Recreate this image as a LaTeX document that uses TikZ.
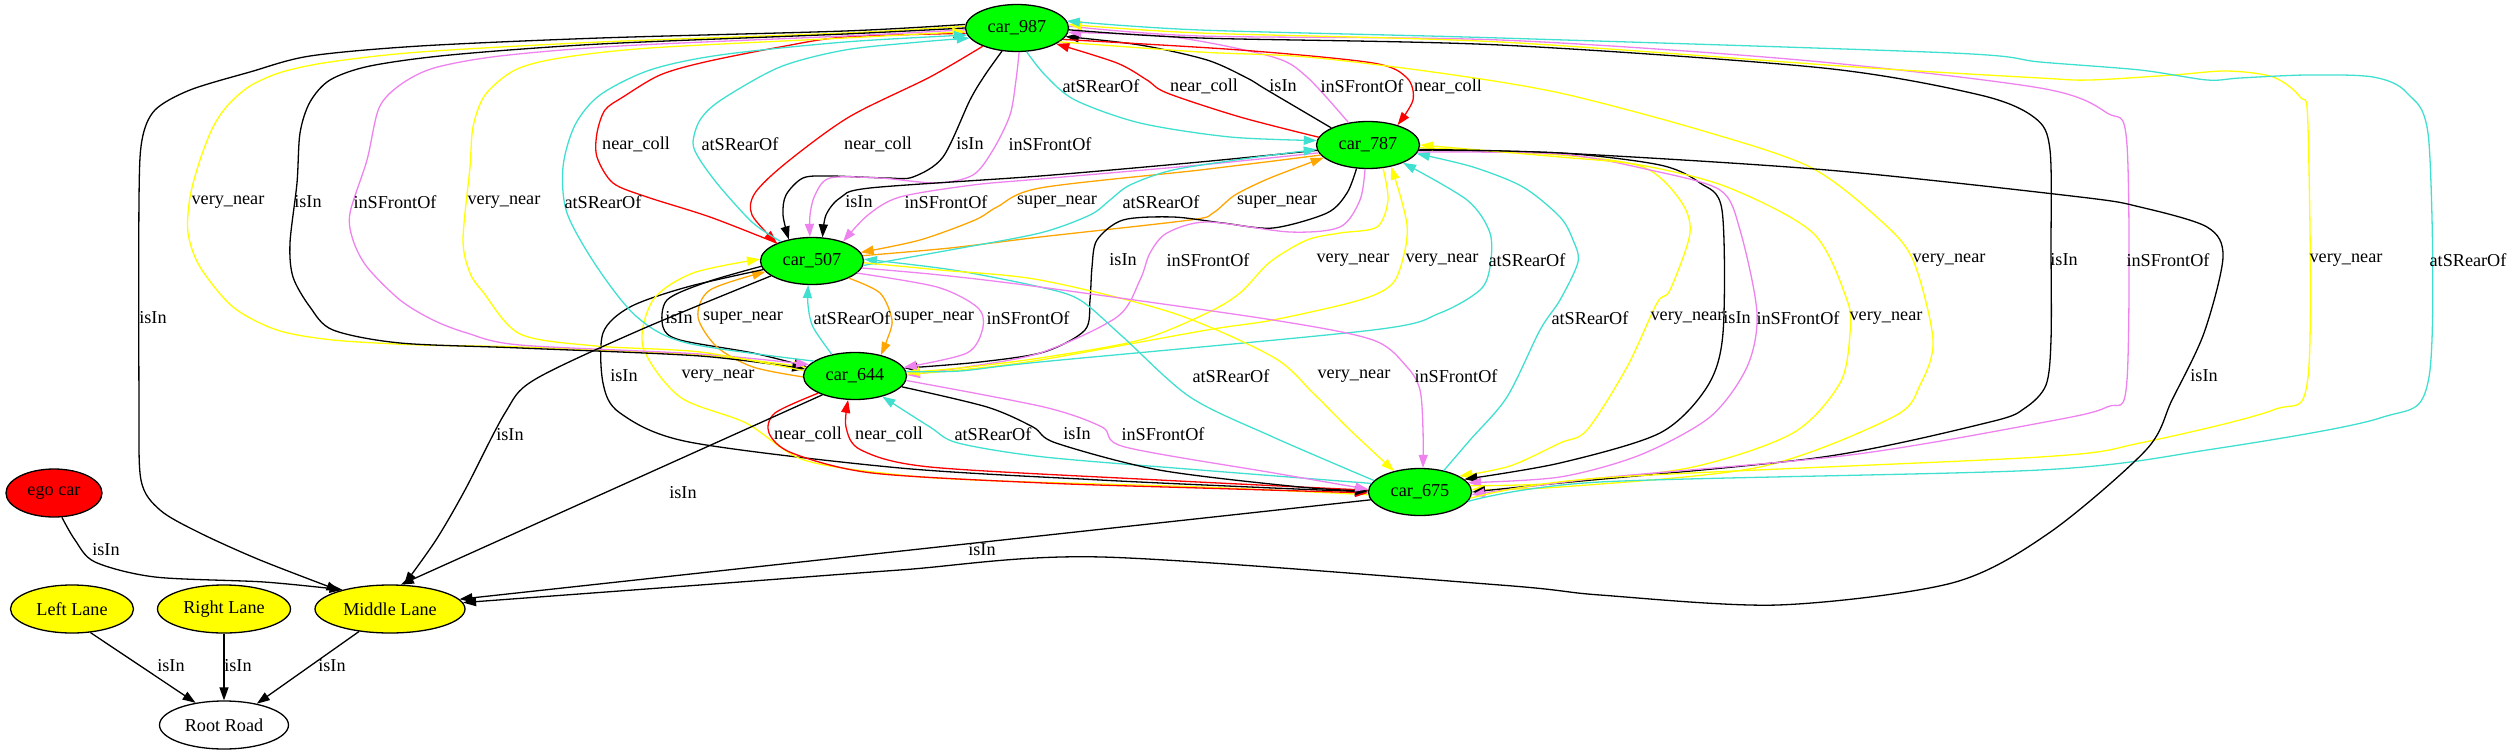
\documentclass[tikz,border=0pt]{standalone}
\usepackage{fontspec}
\setmainfont{Liberation Serif}
\usetikzlibrary{shapes,arrows.meta,positioning}
\definecolor{gvgreen}{RGB}{0,255,0}
\definecolor{gvred}{RGB}{255,0,0}
\definecolor{gvyellow}{RGB}{255,255,0}
\definecolor{gvturq}{RGB}{64,224,208}
\definecolor{gvviolet}{RGB}{238,130,238}
\definecolor{gvorange}{RGB}{255,165,0}
\tikzstyle{car} = [draw,ellipse,line width=0.65pt,fill=gvgreen,inner sep=0,minimum width=51.5pt,minimum height=23.5pt,font=\fontsize{9.1}{11}\selectfont]
\tikzstyle{lane} = [draw,ellipse,line width=0.65pt,fill=gvyellow,inner sep=0,minimum height=24pt,font=\fontsize{9.1}{11}\selectfont]
\tikzstyle{lbl} = [inner sep=0,font=\fontsize{9.1}{11}\selectfont]
\tikzstyle{rel} = [line width=0.65pt,-{Triangle[length=6.5pt,width=4.5pt]}]
\tikzstyle{isin} = [rel,black]
\tikzstyle{nearcoll} = [rel,gvred]
\tikzstyle{atsrear} = [rel,gvturq]
\tikzstyle{infront} = [rel,gvviolet]
\tikzstyle{verynear} = [rel,gvyellow]
\tikzstyle{supernear} = [rel,gvorange]

\begin{document}
\begin{tikzpicture}[x=0.5pt,y=-0.5pt]
\useasboundingbox (0,0) rectangle (2513,755);
% cars
\node[car] (car987) at (1017,28) {car\_987};
\node[car] (car787) at (1368,145) {car\_787};
\node[car] (car507) at (812,261) {car\_507};
\node[car] (car644) at (855,376) {car\_644};
\node[car] (car675) at (1420,492) {car\_675};
\node[car,fill=gvred,minimum width=48pt,minimum height=24pt] (ego) at (54,493) {ego car};
% lanes
\node[lane,minimum width=61.5pt] (left) at (72,609) {Left Lane};
\node[lane,minimum width=66.5pt] (right) at (224,609) {Right Lane};
\node[lane,minimum width=75pt] (middle) at (390,609) {Middle Lane};
\node[lane,fill=white,minimum width=64.5pt] (root) at (224,725) {Root Road};

% car_987 -- car_787
\draw[atsrear] plot[smooth] coordinates {(car987.292) (1045,75) (1075,100) (1140,123) (1230,137) (car787.175)};
\draw[nearcoll] plot[smooth] coordinates {(car787.171) (1240,117) (1167,93) (1147,80) (1117,63) (car987.338)};
\draw[isin] plot[smooth] coordinates {(car787.155) (1267,90) (1247,78) (1207,60) (1140,45) (car987.350)};
\draw[infront] plot[smooth] coordinates {(car787.131) (1307,77) (1273,57) (1173,37) (car987.355)};
\draw[nearcoll] plot[smooth] coordinates {(car987.346) (1240,50) (1373,63) (1407,78) (1413,100) (car787.34)};
\node[lbl] (l1) at (1101,86) {atSRearOf};
\node[lbl] (l2) at (1204,86) {near\_coll};
\node[lbl] (l3) at (1283,86) {isIn};
\node[lbl] (l4) at (1362,86) {inSFrontOf};
\node[lbl] (l5) at (1448,86) {near\_coll};

% car_987 -- car_507
\draw[nearcoll] plot[smooth] coordinates {(car507.153) (710,217) (647,197) (613,183) (597,157) (597,133) (605,110) (623,97) (660,75) (705,62) (780,47) (845,37) (car987.186)};
\draw[nearcoll] plot[smooth] coordinates {(car987.208) (930,77) (849,117) (786,163) (755,193) (752,215) (car507.153)};
\draw[atsrear] plot[smooth] coordinates {(car507.148) (753,223) (720,187) (700,160) (693,143) (700,120) (721,100) (780,67) (845,50) (920,42) (car987.192)};
\draw[isin] plot[smooth] coordinates {(car987.237) (985,75) (970,100) (943,157) (913,177) (887,178) (830,176) (803,178) (786,195) (783,215) (car507.137)};
\draw[infront] plot[smooth] coordinates {(car987.275) (1016,80) (1010,115) (993,150) (973,175) (937,183) (880,178) (830,178) (815,195) (810,215) (car507.95)};
\node[lbl] (l6) at (636,144) {near\_coll};
\node[lbl] (l7) at (878,144) {near\_coll};
\node[lbl] (l8) at (740,144) {atSRearOf};
\node[lbl] (l9) at (970,144) {isIn};
\node[lbl] (l10) at (1050,144) {inSFrontOf};

% car_787 -- car_507
\draw[isin] plot[smooth] coordinates {(car787.186) (1200,162) (1040,176) (870,188) (840,198) (826,215) (car507.66)};
\draw[infront] plot[smooth] coordinates {(car787.189) (1200,165) (1040,179) (973,185) (900,197) (868,215) (car507.32)};
\draw[supernear] plot[smooth] coordinates {(car787.192) (1200,170) (1040,188) (997,207) (975,220) (920,240) (car507.10)};
\draw[supernear] plot[smooth] coordinates {(car507.6) (950,248) (1040,237) (1190,220) (1213,213) (1235,195) (1270,178) (car787.196)};
\draw[atsrear] plot[smooth] coordinates {(car507.355) (950,250) (1040,233) (1090,215) (1110,200) (1130,185) (1173,170) (1250,158) (car787.185)};
\node[lbl] (l11) at (859,202) {isIn};
\node[lbl] (l12) at (946,202) {inSFrontOf};
\node[lbl] (l13) at (1057,202) {super\_near};
\node[lbl] (l14) at (1277,202) {super\_near};
\node[lbl] (l15) at (1161,202) {atSRearOf};

% car_787 -- car_644
\draw[isin] plot[smooth] coordinates {(car787.244) (1347,193) (1327,213) (1273,228) (1223,223) (1173,217) (1123,220) (1097,240) (1092,267) (1090,300) (1085,330) (1044,352) (980,362) (car644.9)};
\draw[infront] plot[smooth] coordinates {(car787.263) (1360,200) (1340,227) (1290,232) (1207,222) (1167,233) (1150,253) (1140,280) (1117,317) (1040,353) (960,368) (car644.1)};
\draw[verynear] plot[smooth] coordinates {(car787.303) (1388,200) (1377,227) (1340,233) (1307,240) (1270,262) (1240,293) (1207,313) (1140,340) (1040,358) (960,368) (car644.4)};
\draw[verynear] plot[smooth] coordinates {(car644.2) (960,370) (1040,360) (1207,330) (1273,320) (1360,300) (1393,283) (1405,250) (1407,225) (1400,195) (car787.317)};
\draw[atsrear] plot[smooth] coordinates {(car644.5) (960,371) (1040,362) (1373,330) (1440,313) (1480,290) (1490,267) (1490,233) (1467,200) (car787.333)};
\node[lbl] (l16) at (1123,260) {isIn};
\node[lbl] (l17) at (1208,260) {inSFrontOf};
\node[lbl] (l18) at (1353,260) {very\_near};
\node[lbl] (l19) at (1442,260) {very\_near};
\node[lbl] (l20) at (1527,260) {atSRearOf};

% car_787 -- car_675
\draw[atsrear] plot[smooth] coordinates {(car675.42) (1470,440) (1507,397) (1540,330) (1560,300) (1578,262) (1573,240) (1560,217) (1523,187) (1473,167) (car787.350)};
\draw[verynear] plot[smooth] coordinates {(car787.357) (1560,155) (1643,167) (1680,200) (1690,233) (1670,290) (1657,303) (1627,367) (1587,430) (1560,443) (1510,466) (car675.22)};
\draw[isin] plot[smooth] coordinates {(car787.354) (1560,153) (1660,165) (1700,183) (1722,210) (1723,333) (1707,387) (1660,433) (1560,463) (car675.16)};
\draw[infront] plot[smooth] coordinates {(car787.352) (1560,154) (1650,170) (1720,190) (1740,230) (1757,313) (1747,367) (1710,417) (1640,455) (1560,477) (car675.11)};
\draw[verynear] plot[smooth] coordinates {(car675.7) (1560,483) (1693,467) (1793,433) (1840,383) (1850,333) (1847,300) (1813,233) (1727,187) (1640,165) (1560,157) (car787.0)};
\node[lbl] (l21) at (1590,318) {atSRearOf};
\node[lbl] (l22) at (1687,318) {very\_near};
\node[lbl] (l23) at (1737,318) {isIn};
\node[lbl] (l24) at (1798,318) {inSFrontOf};
\node[lbl] (l25) at (1886,318) {very\_near};

% car_507 -- car_644
\draw[isin] plot[smooth] coordinates {(car507.186) (707,282) (667,300) (663,327) (680,340) (753,353) (car644.169)};
\draw[supernear] plot[smooth] coordinates {(car644.181) (753,367) (717,347) (698,317) (710,290) (car507.193)};
\draw[atsrear] plot[smooth] coordinates {(car644.137) (813,327) (808,305) (car507.261)};
\draw[supernear] plot[smooth] coordinates {(car507.335) (880,293) (892,320) (887,340) (car644.39)};
\draw[infront] plot[smooth] coordinates {(car507.345) (937,287) (977,307) (983,327) (967,353) (car644.10)};
\node[lbl] (l26) at (679,318) {isIn};
\node[lbl] (l27) at (743,318) {super\_near};
\node[lbl] (l28) at (852,318) {atSRearOf};
\node[lbl] (l29) at (934,318) {super\_near};
\node[lbl] (l30) at (1028,318) {inSFrontOf};

% car_507 -- car_675
\draw[isin] plot[smooth] coordinates {(car507.190) (687,287) (630,307) (603,333) (603,383) (620,413) (689,442) (900,468) (1100,480) (1250,487) (car675.180)};
\draw[verynear] plot[smooth] coordinates {(car675.183) (1200,487) (1000,481) (900,475) (804,460) (746,423) (680,397) (643,347) (653,300) (693,273) (car507.178)};
\draw[atsrear] plot[smooth] coordinates {(car675.166) (1273,437) (1190,397) (1123,337) (1080,300) (1040,287) (953,270) (car507.2)};
\draw[verynear] plot[smooth] coordinates {(car507.358) (940,270) (1040,280) (1173,313) (1273,357) (1313,393) (1350,430) (car675.141)};
\draw[infront] plot[smooth] coordinates {(car507.352) (940,275) (1040,287) (1273,320) (1373,340) (1407,367) (1420,390) (1423,430) (car675.83)};
\node[lbl] (l31) at (624,376) {isIn};
\node[lbl] (l32) at (718,376) {very\_near};
\node[lbl] (l33) at (1231,376) {atSRearOf};
\node[lbl] (l34) at (1354,376) {very\_near};
\node[lbl] (l35) at (1456,376) {inSFrontOf};

% car_644 -- car_675
\draw[nearcoll] plot[smooth] coordinates {(car644.205) (775,413) (769,433) (792,453) (872,473) (1044,483) (1200,488) (car675.181)};
\draw[nearcoll] plot[smooth] coordinates {(car675.178) (1159,480) (930,467) (861,450) (846,427) (car644.254)};
\draw[atsrear] plot[smooth] coordinates {(car675.170) (1200,470) (1044,457) (958,443) (930,427) (car644.323)};
\draw[isin] plot[smooth] coordinates {(car644.347) (987,407) (1033,427) (1056,443) (1159,470) (1300,487) (car675.179)};
\draw[infront] plot[smooth] coordinates {(car644.355) (1044,407) (1102,427) (1125,447) (1274,473) (car675.177)};
\node[lbl] (l36) at (808,434) {near\_coll};
\node[lbl] (l37) at (889,434) {near\_coll};
\node[lbl] (l38) at (993,434) {atSRearOf};
\node[lbl] (l39) at (1077,434) {isIn};
\node[lbl] (l40) at (1163,434) {inSFrontOf};

% car_987 -- car_644
\draw[verynear] plot[smooth] coordinates {(car987.178) (845,33) (600,42) (420,52) (330,62) (282,72) (250,86) (228,105) (213,127) (200,160) (190,197) (188,233) (200,267) (233,307) (277,330) (333,340) (420,345) (520,347) (700,355) (car644.170)};
\draw[isin] plot[smooth] coordinates {(car987.180) (845,34) (600,44) (450,55) (370,66) (330,80) (310,102) (300,133) (297,183) (290,243) (293,277) (310,307) (333,330) (400,343) (520,348) (700,356) (car644.172)};
\draw[infront] plot[smooth] coordinates {(car987.182) (845,36) (620,46) (500,56) (434,68) (400,85) (379,108) (367,160) (350,213) (353,240) (367,267) (400,300) (433,320) (467,333) (520,345) (700,354) (car644.166)};
\draw[verynear] plot[smooth] coordinates {(car644.174) (700,352) (596,346) (520,334) (483,292) (470,273) (463,240) (470,167) (473,127) (485,95) (515,70) (560,58) (650,48) (845,38) (car987.184)};
\draw[atsrear] plot[smooth] coordinates {(car644.160) (687,343) (637,317) (597,267) (567,213) (563,167) (575,125) (600,95) (650,70) (720,55) (845,42) (car987.188)};
\node[lbl] (l41) at (228,202) {very\_near};
\node[lbl] (l42) at (308,202) {isIn};
\node[lbl] (l43) at (395,202) {inSFrontOf};
\node[lbl] (l44) at (504,202) {very\_near};
\node[lbl] (l45) at (603,202) {atSRearOf};

% car_987 -- car_675
\draw[verynear] plot[smooth] coordinates {(car987.342) (1200,52) (1307,57) (1440,73) (1560,93) (1700,130) (1810,167) (1880,220) (1913,260) (1933,340) (1920,385) (1893,417) (1760,467) (1560,487) (car675.3)};
\draw[isin] plot[smooth] coordinates {(car987.358) (1200,38) (1500,45) (1823,68) (1980,95) (2035,118) (2050,150) (2051,250) (2051,340) (2046,385) (2025,408) (1990,422) (1823,457) (1560,483) (car675.0)};
\draw[infront] plot[smooth] coordinates {(car987.2) (1200,36) (1500,40) (1800,60) (2040,88) (2107,113) (2127,145) (2127,380) (2107,407) (2040,423) (1850,455) (1600,478) (car675.357)};
\draw[verynear] plot[smooth] coordinates {(car675.353) (1600,478) (2040,457) (2140,443) (2273,410) (2308,377) (2308,127) (2300,97) (2273,77) (2227,71) (2173,75) (2090,80) (2040,78) (1855,67) (1500,42) (1200,33) (car987.4)};
\draw[atsrear] plot[smooth] coordinates {(car675.349) (1600,482) (2040,470) (2207,450) (2380,418) (2429,377) (2429,143) (2407,93) (2373,77) (2307,75) (2240,78) (2207,80) (2140,70) (2040,62) (1952,53) (1500,38) (1200,30) (car987.8)};
\node[lbl] (l46) at (1949,260) {very\_near};
\node[lbl] (l47) at (2064,260) {isIn};
\node[lbl] (l48) at (2168,260) {inSFrontOf};
\node[lbl] (l49) at (2346,260) {very\_near};
\node[lbl] (l50) at (2468,260) {atSRearOf};

% isIn to the lanes
\draw[isin] plot[smooth] coordinates {(car987.176) (845,31) (600,38) (420,46) (310,56) (250,72) (190,90) (155,110) (142,140) (139,200) (139,400) (141,480) (160,510) (200,533) (260,560) (middle.160)};
\draw[isin] plot[smooth] coordinates {(car787.355) (1560,153) (1827,170) (2080,197) (2140,207) (2207,227) (2223,257) (2204,333) (2172,400) (2146,450) (2049,533) (1952,583) (1778,605) (1600,595) (1500,585) (1102,557) (900,570) (700,585) (middle.5)};
\draw[isin] (car675.189) -- (middle.8);
\draw[isin] (car644.210) -- (middle.66);
\draw[isin] plot[smooth] coordinates {(car507.200) (640,330) (534,380) (505,413) (465,490) (436,540) (middle.60)};
\draw[isin] plot[smooth] coordinates {(ego.288) (75,540) (95,562) (155,577) (264,582) (middle.158)};
\draw[isin] (left.308) -- (root.142);
\draw[isin] (right.south) -- (root.north);
\draw[isin] (middle.216) -- (root.33);
\node[lbl] (l51) at (153,318) {isIn};
\node[lbl] (l52) at (2204,376) {isIn};
\node[lbl] (l53) at (982,550) {isIn};
\node[lbl] (l54) at (683,493) {isIn};
\node[lbl] (l55) at (510,435) {isIn};
\node[lbl] (l56) at (106,550) {isIn};
\node[lbl] (l57) at (171,666) {isIn};
\node[lbl] (l58) at (238,666) {isIn};
\node[lbl] (l59) at (332,666) {isIn};
\end{tikzpicture}
\end{document}
